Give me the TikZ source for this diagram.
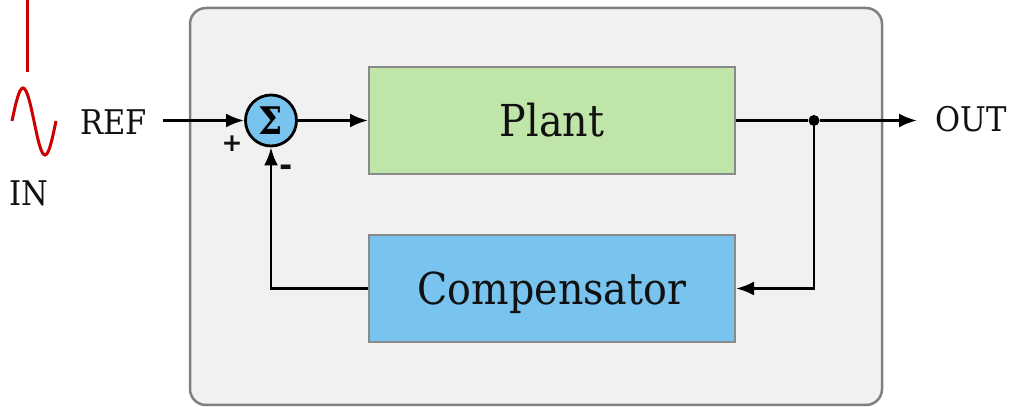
\documentclass[tikz,border=0pt]{standalone}
\usepackage{fontspec}
\setmainfont[FakeStretch=0.9]{DejaVu Serif}
\newfontfamily\symfont{DejaVu Sans}
\usetikzlibrary{arrows.meta}

\definecolor{panelfill}{HTML}{F1F1F1}
\definecolor{panelrule}{HTML}{808080}
\definecolor{plantgreen}{HTML}{BFE6A8}
\definecolor{compblue}{HTML}{78C4EE}
\definecolor{boxrule}{HTML}{8A8A8A}
\definecolor{signalred}{HTML}{CC0000}
\definecolor{ink}{HTML}{111111}

\tikzset{
  block/.style={draw=boxrule, line width=2pt, minimum width=366pt, minimum height=107pt,
    inner sep=0pt, text=ink, font=\fontsize{44}{50}\selectfont, text height=32pt, text depth=0pt},
  label/.style={inner sep=0pt, text=ink, font=\fontsize{34}{40}\selectfont, text height=25pt, text depth=0pt},
  sumnode/.style={circle, draw=black, line width=2.8pt, fill=compblue, minimum size=51pt, inner sep=0pt,
    font=\bfseries\fontsize{38}{42}\selectfont},
  sign/.style={inner sep=0pt, text=ink, font=\symfont\bfseries\fontsize{25}{30}\selectfont},
  dot/.style={circle, fill=black, minimum size=11pt, inner sep=0pt},
  flow/.style={line width=2.8pt, draw=black, -{Latex[length=18pt,width=14pt]}},
  wire/.style={line width=2.8pt, draw=black},
  signal/.style={line width=3pt, draw=signalred}
}

\begin{document}
\begin{tikzpicture}[x=1pt,y=1pt]
\useasboundingbox (0,0) rectangle (1010,407);

% system panel
\draw[fill=panelfill, draw=panelrule, line width=2.5pt, rounded corners=16pt]
  (190,2) rectangle (882,399);

% input signal
\draw[signal] (27,407) -- (27,335);
\draw[signal] (12,286) sin (23,319) cos (34,286) sin (45,252) cos (56,286);

% text labels
\node[label] (ref) at (113.5,284.5) {REF};
\node[label] (in) at (29,214) {IN};
\node[label] (out) at (971.5,287.5) {OUT};

% blocks
\node[block, fill=plantgreen] (plant) at (552,286.5) {Plant};
\node[block, fill=compblue] (comp) at (552,118.5) {Compensator};
\node[sumnode] (sum) at (271,286.5) {Σ};
\node[sign] (plus) at (232,263) {+};
\node[sign, font=\symfont\bfseries\fontsize{32}{36}\selectfont] (minus) at (286,236) {-};

% connectors
\coordinate (refstart) at (163,286.5);
\node[dot] (junc) at (814,286.5) {};
\coordinate (outtip) at (917,286.5);

\draw[flow] (refstart) -- (sum.west);
\draw[flow] (sum.east) -- (plant.west);
\draw[wire] (plant.east) -- (junc);
\draw[flow] (junc) -- (outtip);
\draw[flow] (junc) |- (comp.east);
\draw[flow] (comp.west) -| (sum.south);
\end{tikzpicture}
\end{document}
